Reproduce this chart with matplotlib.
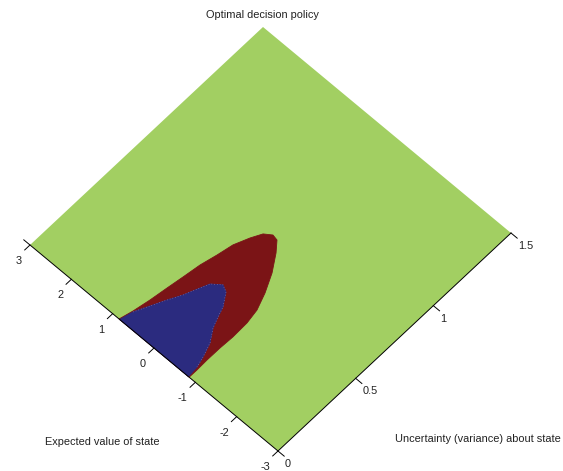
import matplotlib
matplotlib.use("Agg")
import matplotlib.pyplot as plt
from matplotlib.transforms import Affine2D
import numpy as np

# Axis ranges: uncertainty (variance) and expected value of the state
S_RANGE = [0.0, 1.5]
M_RANGE = [-3.0, 3.0]
s_ticks = [0, 0.5, 1, 1.5]
s_tick_labels = ["0", "0.5", "1", "1.5"]
m_ticks = [-3, -2, -1, 0, 1, 2, 3]
m_tick_labels = ["-3", "-2", "-1", "0", "1", "2", "3"]

# Outline of the region where sampling more is optimal (variance, expected value)
sample_s = [0.0, 0.071, 0.163, 0.258, 0.347, 0.442, 0.530, 0.615, 0.692, 0.746,
            0.772, 0.766, 0.716, 0.631, 0.537, 0.450, 0.373, 0.279, 0.200,
            0.117, 0.05, 0.0]
sample_m = [0.845, 0.776, 0.709, 0.655, 0.601, 0.547, 0.466, 0.40, 0.276, 0.165,
            0.023, -0.097, -0.262, -0.485, -0.669, -0.80, -0.849, -0.86, -0.846,
            -0.844, -0.852, -0.85]

# Outline of the inner region
inner_s = [0.0, 0.068, 0.141, 0.214, 0.281, 0.358, 0.403, 0.439, 0.422, 0.358,
           0.307, 0.252, 0.188, 0.116, 0.061, 0.01, 0.0]
inner_m = [0.83, 0.762, 0.627, 0.491, 0.354, 0.232, 0.159, -0.02, -0.156, -0.323,
           -0.395, -0.482, -0.649, -0.751, -0.811, -0.83, -0.83]

GREEN = "#a2cf62"
RED = "#7b1416"
BLUE = "#2b2b7f"
FONT = dict(fontsize=7.9, family="Liberation Sans", color="#222222")

W, H = 563, 471
fig = plt.figure(figsize=(W / 100, H / 100), dpi=100)
ax = fig.add_axes([0, 0, 1, 1])
ax.set_xlim(0, W)
ax.set_ylim(H, 0)
ax.axis("off")

# Oblique top-down view of the (variance, value) plane
origin = np.array([278.0, 451.0])      # s = 0, m = -3
s_end = np.array([511.0, 233.0])       # s = 1.5, m = -3
m_end = np.array([30.0, 245.0])        # s = 0, m = 3
es = (s_end - origin) / (S_RANGE[1] - S_RANGE[0])
em = (m_end - origin) / (M_RANGE[1] - M_RANGE[0])
off = origin - es * S_RANGE[0] - em * M_RANGE[0]
view = Affine2D(np.array([[es[0], em[0], off[0]],
                          [es[1], em[1], off[1]],
                          [0, 0, 1]])) + ax.transData

# Policy surface seen from above
ax.fill([S_RANGE[0], S_RANGE[1], S_RANGE[1], S_RANGE[0]],
        [M_RANGE[0], M_RANGE[0], M_RANGE[1], M_RANGE[1]],
        color=GREEN, lw=0, transform=view)
ax.fill(sample_s, sample_m, color=RED, lw=0.6, ec=RED, transform=view)
ax.fill(inner_s, inner_m, color=BLUE, lw=0.6, ec=BLUE, transform=view)
ax.plot(inner_s[1:-2], inner_m[1:-2], color="#c0a8c8", lw=0.5, ls=(0, (1, 3)),
        alpha=0.7, transform=view)

# Axis lines
tick_s = 0.034
tick_m = 0.15
ax.plot([0, 0], [M_RANGE[0], M_RANGE[1] + tick_m], color="black", lw=0.7, transform=view)
ax.plot([S_RANGE[0], S_RANGE[1]], [M_RANGE[0], M_RANGE[0]], color="black", lw=0.7, transform=view)

# Ticks on the expected-value axis
for m, lab in zip(m_ticks, m_tick_labels):
    ax.plot([0, -tick_s], [m, m], color="black", lw=0.7, transform=view)
    px, py = view.transform((0, m))
    ax.annotate(lab, xy=(px, py), xycoords="figure pixels", xytext=(-8, -16),
                textcoords="offset pixels", ha="right", va="center", **FONT)

# Ticks on the variance axis
for s, lab in zip(s_ticks, s_tick_labels):
    ax.plot([s, s], [M_RANGE[0], M_RANGE[0] - tick_m], color="black", lw=0.7, transform=view)
    px, py = view.transform((s, M_RANGE[0]))
    ax.annotate(lab, xy=(px, py), xycoords="figure pixels", xytext=(7, -13),
                textcoords="offset pixels", ha="left", va="center", **FONT)

ax.text(262, 15, "Optimal decision policy", ha="center", va="center", **FONT)
ax.text(45, 442, "Expected value of state", ha="left", va="center", **FONT)
ax.text(395, 439, "Uncertainty (variance) about state", ha="left", va="center", **FONT)

fig.savefig("out.png", dpi=100)
